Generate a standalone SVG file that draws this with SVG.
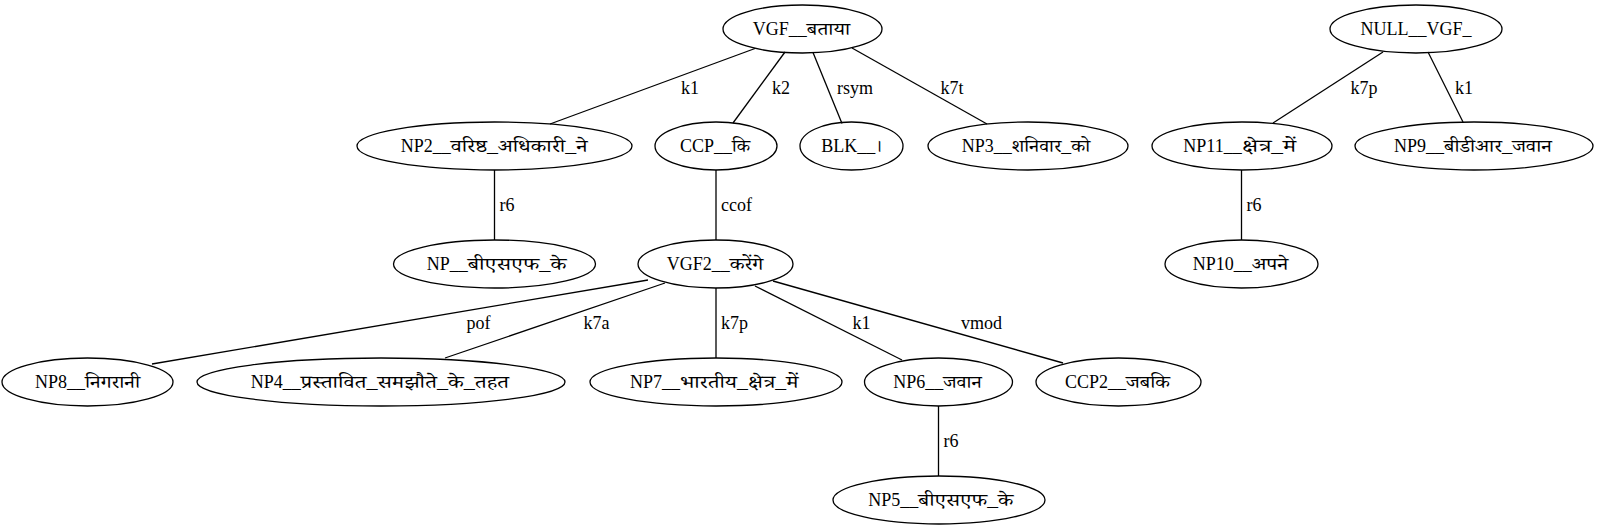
<svg xmlns="http://www.w3.org/2000/svg" width="1599" height="528" viewBox="0 0 1599 528">
<style>
.n ellipse{fill:none;stroke:#000;stroke-width:1.3}
text{font-family:"Liberation Serif","Noto Serif Devanagari","Noto Sans Devanagari","Lohit Devanagari","FreeSerif",serif;font-size:18px;fill:#000;text-anchor:middle}
.n text{text-anchor:start}
.n text.c{text-anchor:middle}
#edges line{stroke:#000;stroke-width:1.3}
</style>
<rect width="1599" height="528" fill="#fff"/>
<g id="edges">
<line x1="755" y1="48.5" x2="550" y2="124"/>
<text x="690" y="94">k1</text>
<line x1="785" y1="52" x2="733" y2="123"/>
<text x="781" y="94">k2</text>
<line x1="813" y1="52.5" x2="842" y2="123.5"/>
<text x="855" y="94">rsym</text>
<line x1="852" y1="48" x2="987" y2="124"/>
<text x="952" y="94">k7t</text>
<line x1="494.5" y1="170" x2="494.5" y2="240"/>
<text x="507" y="211">r6</text>
<line x1="716" y1="170" x2="716" y2="240"/>
<text x="736.5" y="211">ccof</text>
<line x1="648" y1="280" x2="152" y2="364"/>
<text x="478.5" y="329">pof</text>
<line x1="665" y1="283" x2="445" y2="358"/>
<text x="596.5" y="329">k7a</text>
<line x1="716" y1="288" x2="716" y2="358"/>
<text x="734.5" y="329">k7p</text>
<line x1="755" y1="286" x2="902" y2="360"/>
<text x="861.5" y="329">k1</text>
<line x1="773" y1="281" x2="1063" y2="363"/>
<text x="981.5" y="329">vmod</text>
<line x1="938.5" y1="406" x2="938.5" y2="476"/>
<text x="951" y="447">r6</text>
<line x1="1383" y1="52" x2="1273" y2="123"/>
<text x="1364" y="94">k7p</text>
<line x1="1428" y1="52" x2="1463" y2="122"/>
<text x="1464" y="94">k1</text>
<line x1="1241.5" y1="170" x2="1241.5" y2="240"/>
<text x="1254" y="211">r6</text>
</g>
<g id="VGF" class="n"><ellipse cx="802.5" cy="29" rx="79.5" ry="24"/><text x="752.7" y="35">VGF__<tspan textLength="43.3" lengthAdjust="spacingAndGlyphs">बताया</tspan></text></g>
<g id="NP2" class="n"><ellipse cx="494.5" cy="146" rx="137.5" ry="24"/><text x="400.7" y="152">NP2__<tspan textLength="136.7" lengthAdjust="spacingAndGlyphs">वरिष्ठ_अधिकारी_ने</tspan></text></g>
<g id="CCP" class="n"><ellipse cx="716" cy="146" rx="61" ry="24"/><text x="680" y="152">CCP__<tspan textLength="18" lengthAdjust="spacingAndGlyphs">कि</tspan></text></g>
<g id="BLK" class="n"><ellipse cx="851.5" cy="146" rx="51.5" ry="24"/><text class="c" x="851.5" y="152">BLK__।</text></g>
<g id="NP3" class="n"><ellipse cx="1028" cy="146" rx="100" ry="24"/><text x="961.7" y="152">NP3__<tspan textLength="78.3" lengthAdjust="spacingAndGlyphs">शनिवार_को</tspan></text></g>
<g id="NP" class="n"><ellipse cx="494.5" cy="264" rx="101" ry="24"/><text x="426.7" y="270">NP__<tspan textLength="98.7" lengthAdjust="spacingAndGlyphs">बीएसएफ_के</tspan></text></g>
<g id="VGF2" class="n"><ellipse cx="715.5" cy="264" rx="77.5" ry="24"/><text x="666.7" y="270">VGF2__<tspan textLength="33.6" lengthAdjust="spacingAndGlyphs">करेंगे</tspan></text></g>
<g id="NP8" class="n"><ellipse cx="87.5" cy="382" rx="85.5" ry="24"/><text x="35" y="388">NP8__<tspan textLength="55" lengthAdjust="spacingAndGlyphs">निगरानी</tspan></text></g>
<g id="NP4" class="n"><ellipse cx="381" cy="382" rx="184" ry="24"/><text x="250.7" y="388">NP4__<tspan textLength="208.3" lengthAdjust="spacingAndGlyphs">प्रस्तावित_समझौते_के_तहत</tspan></text></g>
<g id="NP7" class="n"><ellipse cx="716" cy="382" rx="126" ry="24"/><text x="630" y="388">NP7__<tspan textLength="118.3" lengthAdjust="spacingAndGlyphs">भारतीय_क्षेत्र_में</tspan></text></g>
<g id="NP6" class="n"><ellipse cx="938.5" cy="382" rx="74" ry="24"/><text x="893.3" y="388">NP6__<tspan textLength="38.4" lengthAdjust="spacingAndGlyphs">जवान</tspan></text></g>
<g id="CCP2" class="n"><ellipse cx="1118.5" cy="382" rx="82.5" ry="24"/><text x="1065" y="388">CCP2__<tspan textLength="44" lengthAdjust="spacingAndGlyphs">जबकि</tspan></text></g>
<g id="NP5" class="n"><ellipse cx="939" cy="500" rx="106" ry="24"/><text x="868.3" y="506">NP5__<tspan textLength="95" lengthAdjust="spacingAndGlyphs">बीएसएफ_के</tspan></text></g>
<g id="NULL" class="n"><ellipse cx="1416" cy="29" rx="86" ry="24"/><text class="c" x="1416" y="35">NULL__VGF_</text></g>
<g id="NP11" class="n"><ellipse cx="1242" cy="146" rx="90" ry="24"/><text x="1183.3" y="152">NP11__<tspan textLength="54.4" lengthAdjust="spacingAndGlyphs">क्षेत्र_में</tspan></text></g>
<g id="NP9" class="n"><ellipse cx="1474" cy="146" rx="119" ry="24"/><text x="1394" y="152">NP9__<tspan textLength="107.7" lengthAdjust="spacingAndGlyphs">बीडीआर_जवान</tspan></text></g>
<g id="NP10" class="n"><ellipse cx="1241.5" cy="264" rx="76.5" ry="24"/><text x="1192.7" y="270">NP10__<tspan textLength="36.6" lengthAdjust="spacingAndGlyphs">अपने</tspan></text></g>
</svg>
